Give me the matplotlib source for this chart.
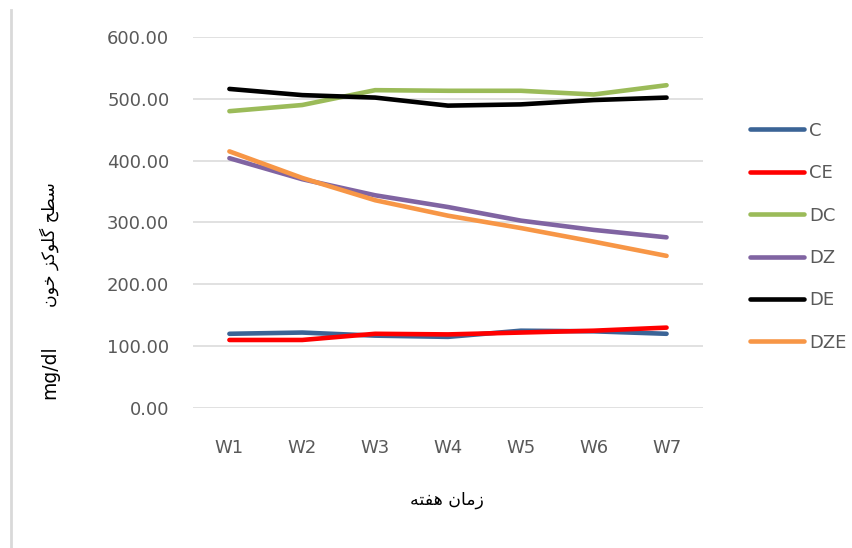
import matplotlib
matplotlib.use("Agg")
import matplotlib.pyplot as plt
from matplotlib.lines import Line2D

weeks = ["W1", "W2", "W3", "W4", "W5", "W6", "W7"]
C = [120, 122, 117, 115, 125, 124, 120]
CE = [110, 110, 120, 119, 122, 125, 130]
DC = [480, 490, 514, 513, 513, 507, 522]
DZ = [404, 370, 344, 325, 303, 288, 276]
DE = [516, 506, 502, 489, 491, 498, 502]
DZE = [415, 372, 336, 311, 291, 269, 246]
yticks = [0, 100, 200, 300, 400, 500, 600]

ylabel_fa = "سطح گلوکز خون"
xlabel_fa = "زمان هفته"

# contextual forms (isolated, final, initial, medial) -- matplotlib does no arabic shaping
FORMS = {
    'ا': ('\uFE8D', '\uFE8E', None, None),
    'ت': ('\uFE95', '\uFE96', '\uFE97', '\uFE98'),
    'ح': ('\uFEA1', '\uFEA2', '\uFEA3', '\uFEA4'),
    'خ': ('\uFEA5', '\uFEA6', '\uFEA7', '\uFEA8'),
    'ز': ('\uFEAF', '\uFEB0', None, None),
    'س': ('\uFEB1', '\uFEB2', '\uFEB3', '\uFEB4'),
    'ط': ('\uFEC1', '\uFEC2', '\uFEC3', '\uFEC4'),
    'ف': ('\uFED1', '\uFED2', '\uFED3', '\uFED4'),
    'ل': ('\uFEDD', '\uFEDE', '\uFEDF', '\uFEE0'),
    'م': ('\uFEE1', '\uFEE2', '\uFEE3', '\uFEE4'),
    'ن': ('\uFEE5', '\uFEE6', '\uFEE7', '\uFEE8'),
    'ه': ('\uFEE9', '\uFEEA', '\uFEEB', '\uFEEC'),
    'و': ('\uFEED', '\uFEEE', None, None),
    'ک': ('\uFB8E', '\uFB8F', '\uFB90', '\uFB91'),
    'گ': ('\uFB92', '\uFB93', '\uFB94', '\uFB95'),
}


def shape(s):
    out = []
    for i, ch in enumerate(s):
        if ch not in FORMS:
            out.append(ch)
            continue
        prev = s[i - 1] if i > 0 else None
        nxt = s[i + 1] if i + 1 < len(s) else None
        join_prev = prev in FORMS and FORMS[prev][2] is not None
        join_next = nxt in FORMS and FORMS[ch][2] is not None
        iso, fin, ini, med = FORMS[ch]
        if join_prev and join_next:
            out.append(med)
        elif join_prev:
            out.append(fin)
        elif join_next:
            out.append(ini)
        else:
            out.append(iso)
    return "".join(out)[::-1]


fig = plt.figure(figsize=(8.52, 5.48), dpi=100)
ax = fig.add_axes([0.2265, 0.2555, 0.5986, 0.677])

x = [i + 0.5 for i in range(len(weeks))]
series = [("C", C, "#3B6496"), ("CE", CE, "#FF0000"), ("DC", DC, "#9BBB59"),
          ("DZ", DZ, "#8064A2"), ("DE", DE, "#000000"), ("DZE", DZE, "#F79646")]
for name, vals, col in series:
    ax.plot(x, vals, color=col, lw=3.3, label=name, solid_capstyle="round",
            solid_joinstyle="round", zorder=3)

ax.set_xlim(0, len(weeks))
ax.set_ylim(0, 600)
ax.set_yticks(yticks)
ax.set_yticklabels([f"{v:.2f}" for v in yticks])
ax.set_xticks(x)
ax.set_xticklabels(weeks)
ax.grid(axis="y", color="#D9D9D9", lw=1.1)
ax.set_axisbelow(True)
for s in ax.spines.values():
    s.set_visible(False)
ax.tick_params(length=0, labelsize=13, labelcolor="#595959")
ax.tick_params(axis="y", pad=17)
ax.tick_params(axis="x", pad=22)

fig.text(0.058, 0.553, shape(ylabel_fa), rotation=90, ha="center", va="center",
         fontsize=12.5, family="DejaVu Sans", color="#000000")
fig.text(0.058, 0.32, "mg/dl", rotation=90, ha="center", va="center",
         fontsize=13.5, color="#000000")
fig.text(0.525, 0.087, shape(xlabel_fa), ha="center", va="center",
         fontsize=12.5, family="DejaVu Sans", color="#000000")

leg = ax.legend(loc="upper left", bbox_to_anchor=(0.872, 0.791), bbox_transform=fig.transFigure,
                frameon=False, fontsize=13, handlelength=3.0, handletextpad=0.25,
                labelspacing=1.35, borderaxespad=0)
for t in leg.get_texts():
    t.set_color("#595959")

fig.add_artist(Line2D([0.013, 0.013], [0, 0.982], transform=fig.transFigure,
                      color="#D9D9D9", lw=2))

fig.savefig("out.png", dpi=100)
